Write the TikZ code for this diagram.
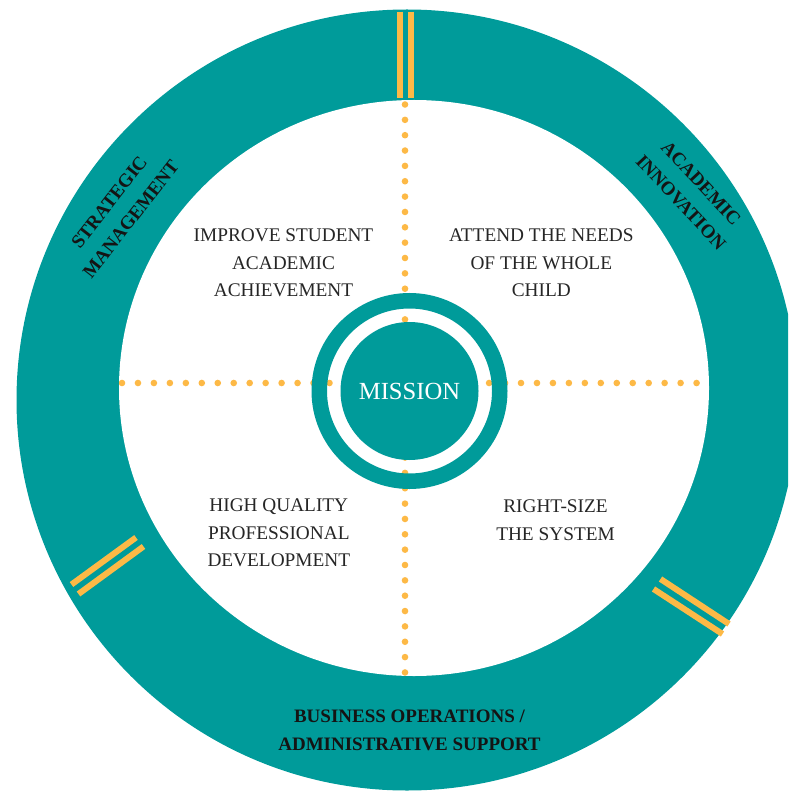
\documentclass[tikz,border=0pt]{standalone}
\usepackage{fontspec}
\setmainfont{Liberation Serif}
\definecolor{ringteal}{RGB}{0,155,154}
\definecolor{dotyellow}{RGB}{253,185,70}
\definecolor{inktext}{RGB}{38,38,38}
\begin{document}
\begin{tikzpicture}[x=1pt,y=-1pt,
  quadlabel/.style={font=\fontsize{19.3}{27.2}\selectfont, text=inktext, align=center, inner sep=0pt, anchor=north},
  sidelabel/.style={font=\bfseries\fontsize{19}{27.5}\selectfont, text=black!92, align=center, inner sep=0pt},
  dotrow/.style={draw=dotyellow, line width=6.6pt, line cap=round, dash pattern=on 0pt off #1},
  yellowbar/.style={draw=dotyellow, line width=6pt}
]
\useasboundingbox (0,0) rectangle (788,791);
\clip (0,0) rectangle (788,791);
% big ring
\fill[ringteal] (407,400) circle [radius=390.5];
\fill[white] (414,388) ellipse [x radius=295, y radius=288];
% dotted cross
\begin{scope}
  \clip (414,388) ellipse [x radius=295, y radius=288];
  \coordinate (vtop) at (405,104.5);
  \coordinate (vbot) at (405,700);
  \coordinate (hleft) at (122,383);
  \coordinate (hright) at (740,383);
  \draw[dotrow=15.35pt] (vtop) -- (vbot);
  \draw[dotrow=15.96pt] (hleft) -- (hright);
\end{scope}
% mission
\node[circle, draw=ringteal, line width=15.5pt, minimum size=180.5pt, inner sep=0pt] (missionring) at (409.5,391) {};
\node[circle, fill=ringteal, minimum size=138pt, inner sep=0pt, text=white, font=\fontsize{24.6}{28}\selectfont] (mission) at (409.5,391) {MISSION};
% yellow double bars
\coordinate (ta1) at (399.7,11.7); \coordinate (tb1) at (399.7,98.3);
\coordinate (ta2) at (411.3,11.7); \coordinate (tb2) at (411.3,98.3);
\draw[yellowbar] (ta1) -- (tb1);
\draw[yellowbar] (ta2) -- (tb2);
\coordinate (la1) at (71.5,584.5); \coordinate (lb1) at (136,537.5);
\coordinate (la2) at (78.5,594); \coordinate (lb2) at (143.5,546.5);
\draw[yellowbar] (la1) -- (lb1);
\draw[yellowbar] (la2) -- (lb2);
\coordinate (ra1) at (660.5,579); \coordinate (rb1) at (729,624);
\coordinate (ra2) at (653.5,589); \coordinate (rb2) at (722.5,634);
\draw[yellowbar] (ra1) -- (rb1);
\draw[yellowbar] (ra2) -- (rb2);
% quadrant texts
\node[quadlabel] (q1) at (283.5,229) {IMPROVE STUDENT\\ACADEMIC\\ACHIEVEMENT};
\node[quadlabel] (q2) at (541.3,229) {ATTEND THE NEEDS\\OF THE WHOLE\\CHILD};
\node[quadlabel] (q3) at (278.8,499) {HIGH QUALITY\\PROFESSIONAL\\DEVELOPMENT};
\node[quadlabel] (q4) at (555.5,500) {RIGHT-SIZE\\THE SYSTEM};
% ring labels
\node[sidelabel, rotate=52] (strat) at (120,210.5) {STRATEGIC\\MANAGEMENT};
\node[sidelabel, rotate=-47] (acad) at (691,193) {ACADEMIC\\INNOVATION};
\node[sidelabel, anchor=north] (biz) at (409.5,710) {BUSINESS OPERATIONS /\\ADMINISTRATIVE SUPPORT};
\end{tikzpicture}
\end{document}
